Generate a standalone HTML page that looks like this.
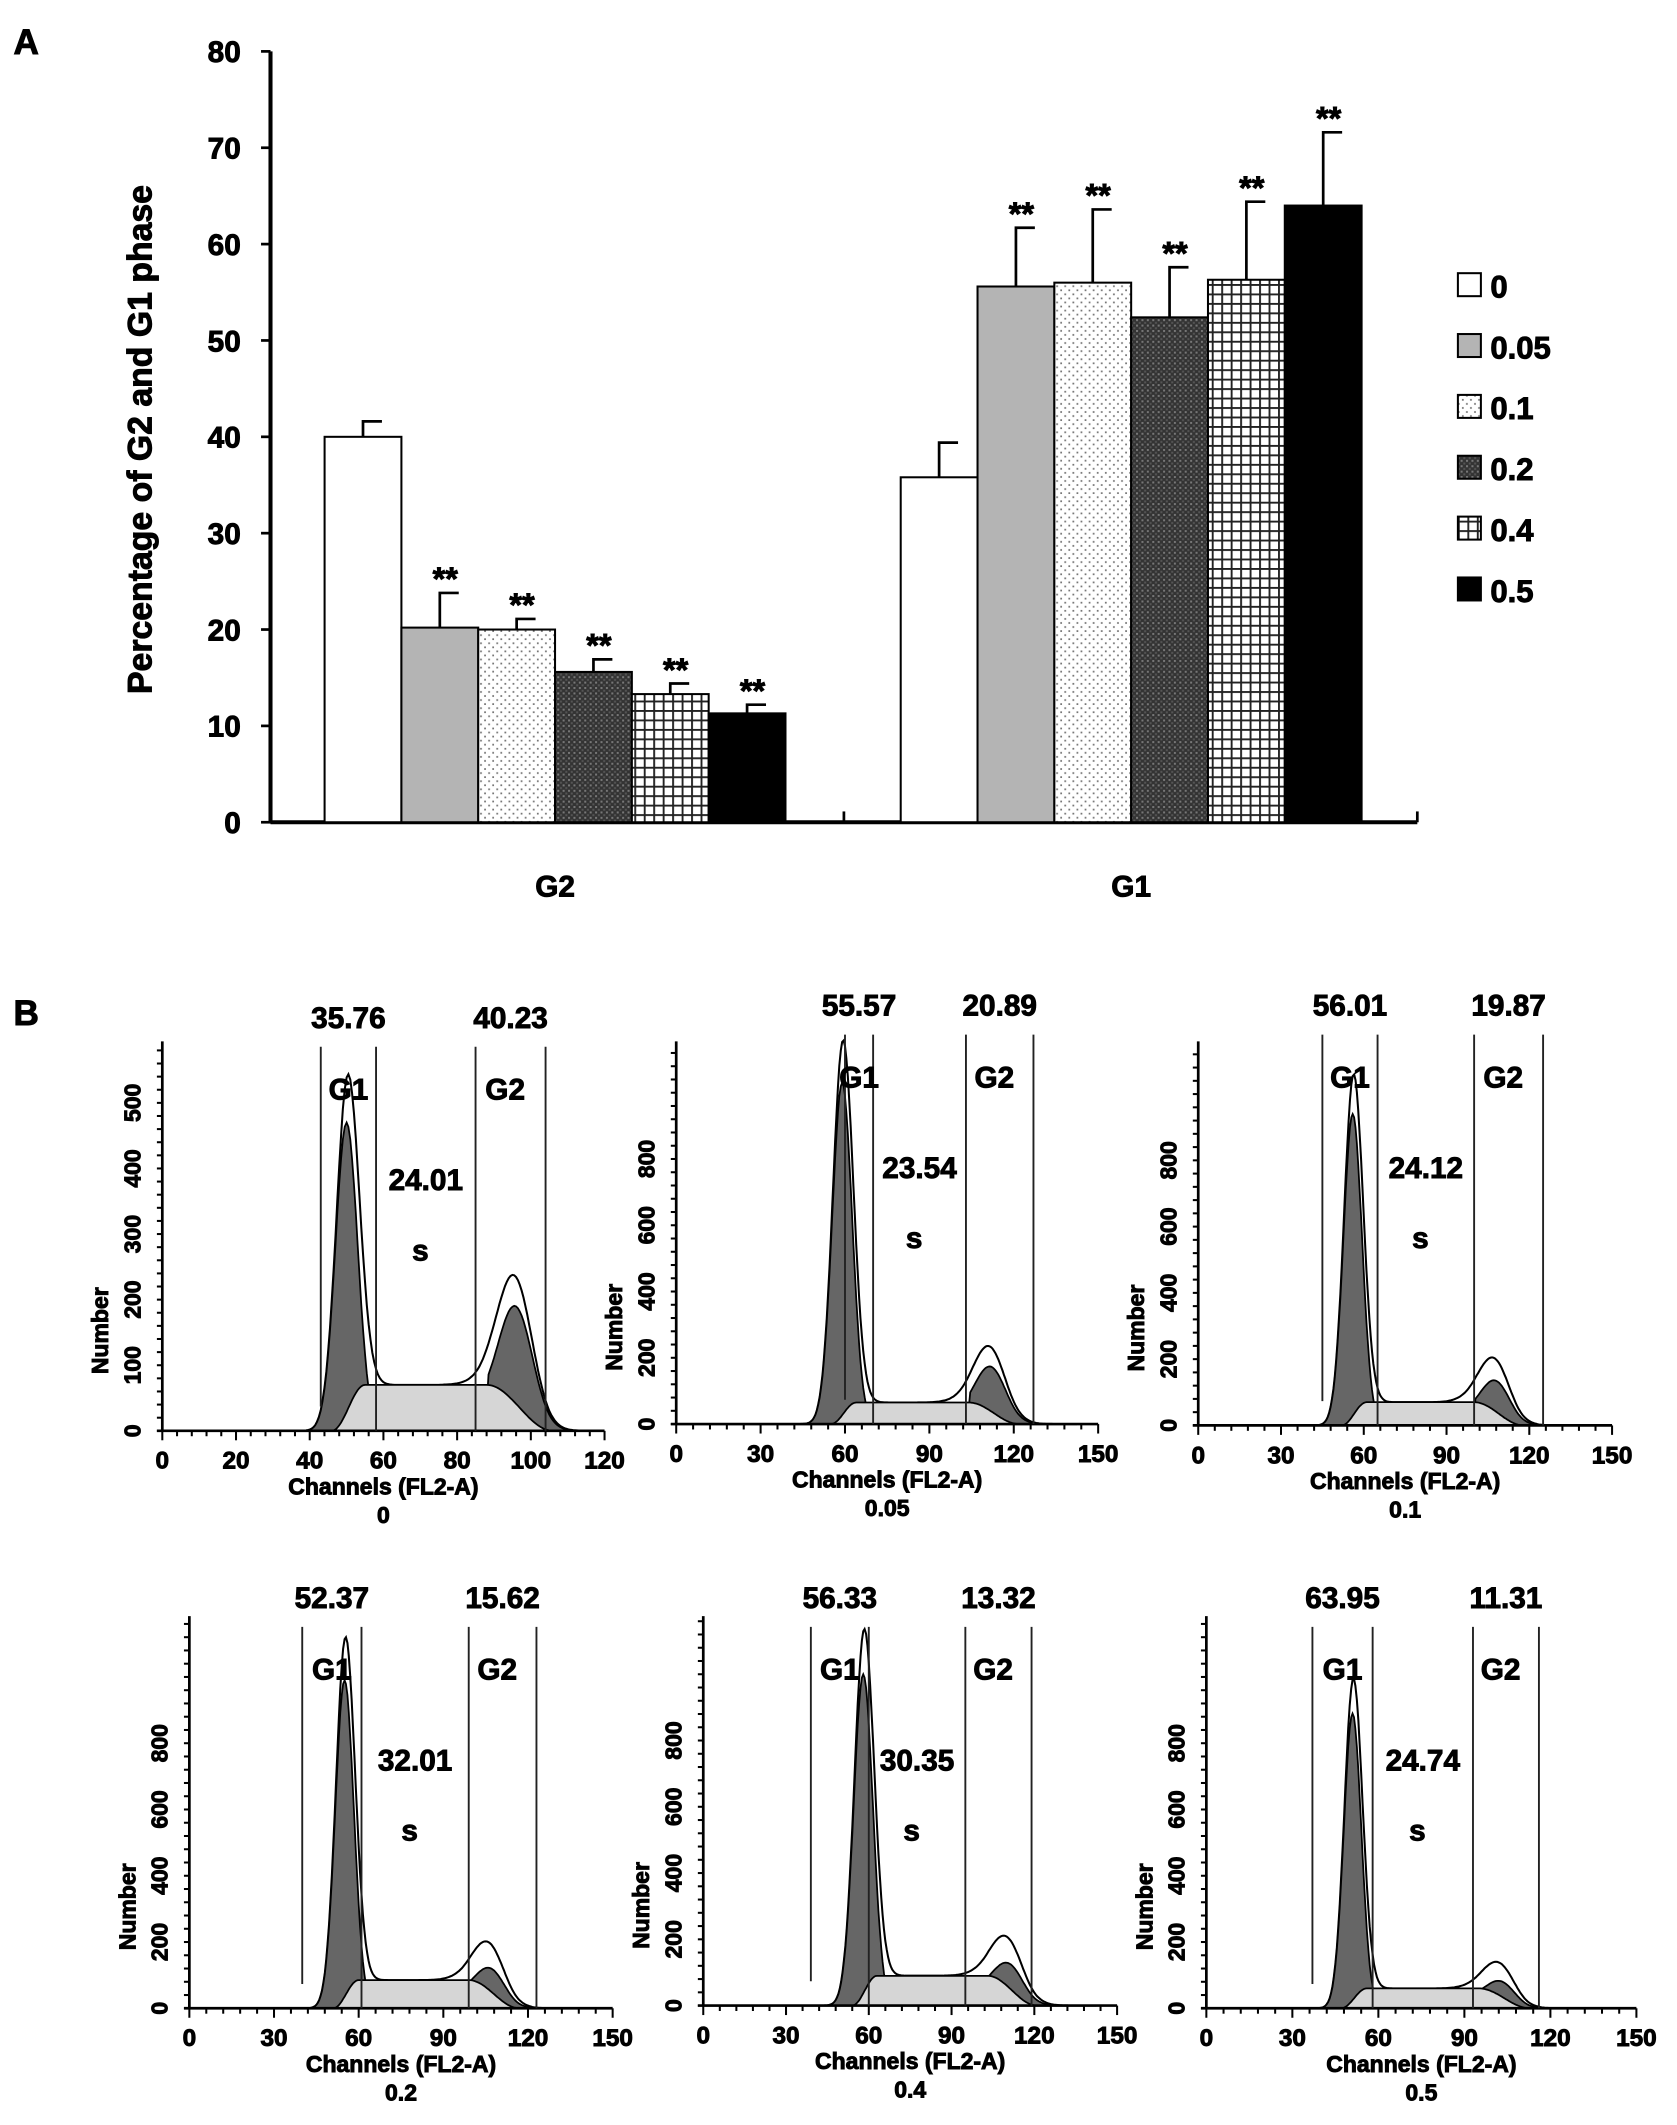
<!DOCTYPE html>
<html><head><meta charset="utf-8"><style>
html,body{margin:0;padding:0;background:#fff}
svg{display:block}
text{font-family:"Liberation Sans",Arial,sans-serif;font-weight:bold;fill:#000;stroke:#000;stroke-width:0.7px}
</style></head><body>
<svg id="fig" xmlns="http://www.w3.org/2000/svg" width="1677" height="2125" viewBox="0 0 1240 1571.3">
<defs>
<pattern id="pDot" width="6" height="6" patternUnits="userSpaceOnUse"><rect width="6" height="6" fill="#fff"/><rect x="1" y="1" width="1.3" height="1.3" fill="#777"/><rect x="4" y="4" width="1.3" height="1.3" fill="#777"/></pattern>
<pattern id="pDark" width="4" height="4" patternUnits="userSpaceOnUse"><rect width="4" height="4" fill="#333"/><rect x="0" y="0" width="1.5" height="1.5" fill="#777"/><rect x="2" y="2" width="1.5" height="1.5" fill="#555"/></pattern>
<pattern id="pGrid" width="7" height="7" patternUnits="userSpaceOnUse"><rect width="7" height="7" fill="#fff"/><rect x="0" y="0" width="7" height="1.4" fill="#222"/><rect x="0" y="0" width="1.4" height="7" fill="#222"/></pattern>
</defs>
<g id="panelA"></g>
<g id="panelB"></g>
</svg>
<script>
// ---------- Panel A data ----------
const groups = ["G2", "G1"];
const doses = ["0", "0.05", "0.1", "0.2", "0.4", "0.5"];
const g2Values = [40, 20.2, 20, 15.6, 13.3, 11.3];
const g2ErrTop = [41.6, 23.8, 21.1, 16.9, 14.4, 12.2];
const g1Values = [35.8, 55.6, 56, 52.4, 56.3, 64];
const g1ErrTop = [39.4, 61.7, 63.6, 57.6, 64.4, 71.6];
const yTicksA = [0, 10, 20, 30, 40, 50, 60, 70, 80];
const sigMarks = ["", "**", "**", "**", "**", "**"];
// ---------- Panel B data ----------
const histTitles = ["0", "0.05", "0.1", "0.2", "0.4", "0.5"];
const g1Pct = ["35.76", "55.57", "56.01", "52.37", "56.33", "63.95"];
const g2Pct = ["40.23", "20.89", "19.87", "15.62", "13.32", "11.31"];
const sPct = ["24.01", "23.54", "24.12", "32.01", "30.35", "24.74"];
const xMaxB = [120, 150, 150, 150, 150, 150];
const yMaxTick = [500, 800, 800, 800, 800, 800];
const g1PeakCh = [50, 59, 56, 55, 58, 51];
const g1PeakH = [470, 1030, 940, 990, 1000, 890];
const g2PeakCh = [96, 112, 108, 107, 111, 103];
const g2PeakH = [165, 150, 110, 90, 95, 60];
const g2TotalExtra = [30, 45, 50, 55, 55, 40];
const sLevel = [70, 65, 70, 85, 90, 60];
const gateCh = [[43, 58, 85, 104],[60, 70, 103, 127],[45, 65, 100, 125],[40, 61, 99, 123],[39, 60, 95, 119],[37, 58, 93, 116]];

const NS = "http://www.w3.org/2000/svg";
function el(tag, attrs, parent, txt) {
  const e = document.createElementNS(NS, tag);
  for (const k in attrs) e.setAttribute(k, attrs[k]);
  if (txt !== undefined) e.textContent = txt;
  parent.appendChild(e);
  return e;
}

// ---------- Panel A ----------
(function(){
  const A = document.getElementById("panelA");
  const x0 = 200, x1 = 1048, yBase = 608, yTop = 38;
  const yA = v => yBase - v * (yBase - yTop) / 80;
  const groupStart = [240, 666];
  const bw = 56.8;
  const fills = ["#fff", "#b4b4b4", "url(#pDot)", "url(#pDark)", "url(#pGrid)", "#000"];
  let t = el("text", {x: 10, y: 40, "font-size": 26}, A, "A");
  
  
  let ax = el("line", {x1: x0, y1: yTop, x2: x0, y2: yBase, stroke: "#000", "stroke-width": 3}, A);
  
  
  yTicksA.forEach(v => {
    el("line", {x1: x0 - 7, y1: yA(v), x2: x0, y2: yA(v), stroke: "#000", "stroke-width": 2}, A);
    const tl = el("text", {x: 178, y: yA(v) + 8, "font-size": 22, "text-anchor": "end"}, A, v);
    
    
  });
  let xa = el("line", {x1: x0, y1: yBase, x2: x1, y2: yBase, stroke: "#000", "stroke-width": 3}, A);
  
  
  [624, x1].forEach(x => el("line", {x1: x, y1: yBase, x2: x, y2: yBase - 8, stroke: "#000", "stroke-width": 2}, A));
  let yl = el("text", {x: 0, y: 0, "font-size": 25, "text-anchor": "middle", transform: "translate(112,325) rotate(-90)"}, A, "Percentage of G2 and G1 phase");
  
  
  const vals = [g2Values, g1Values], errs = [g2ErrTop, g1ErrTop];
  groups.forEach((g, gi) => {
    const cl = el("text", {x: groupStart[gi] + bw * 3, y: 663, "font-size": 22, "text-anchor": "middle"}, A, g);
    
    
    vals[gi].forEach((v, i) => {
      const bx = groupStart[gi] + i * bw;
      const r = el("rect", {x: bx, y: yA(v), width: bw, height: yBase - yA(v), fill: fills[i], stroke: "#000", "stroke-width": 1.5}, A);
      
      
      const cx = bx + bw / 2, et = yA(errs[gi][i]);
      const eb = el("path", {d: `M${cx} ${yA(v)}V${et}M${cx - 1} ${et}H${cx + 14}`, stroke: "#000", "stroke-width": 2, fill: "none"}, A);
      
      
      if (sigMarks[i]) {
        const s = el("text", {x: cx + 4, y: et - 2, "font-size": 24, "text-anchor": "middle"}, A, sigMarks[i]);
        
        
      }
    });
  });
  const lg = el("g", {}, A);
  
  
  doses.forEach((d, i) => {
    const ly = 212 + i * 45;
    const sw = el("rect", {x: 1078, y: ly - 10, width: 17, height: 17, fill: fills[i], stroke: "#000", "stroke-width": 1.5}, lg);
    
    
    const lt = el("text", {x: 1102, y: ly + 8, "font-size": 23}, lg, d);
    
    
  });
})();

// ---------- Panel B ----------
(function(){
  const B = document.getElementById("panelB");
  let t = el("text", {x: 10, y: 758, "font-size": 26}, B, "B");
  
  
  const boxes = [
    {ax: 120, bx: 447, base: 1058, top: 770, per100: 48.5, labY: 752},
    {ax: 500, bx: 812, base: 1053, top: 770, per100: 24.5, labY: 743},
    {ax: 886, bx: 1192, base: 1054, top: 770, per100: 24.5, labY: 743},
    {ax: 140, bx: 453, base: 1485, top: 1195, per100: 24.5, labY: 1181},
    {ax: 520, bx: 826, base: 1483, top: 1195, per100: 24.5, labY: 1181},
    {ax: 892, bx: 1210, base: 1485, top: 1195, per100: 24.5, labY: 1181}
  ];
  boxes.forEach((b, p) => {
    const G = el("g", {}, B);
    
    
    const xs = c => b.ax + c * (b.bx - b.ax) / xMaxB[p];
    const ys = n => b.base - n * b.per100 / 100;
    const m1 = g1PeakCh[p], m2 = g2PeakCh[p];
    const sg1 = m1 * 0.06, sg2 = m2 * 0.048;
    const g1 = c => g1PeakH[p] * Math.exp(-((c - m1) ** 2) / (2 * sg1 * sg1));
    const g2 = c => g2PeakH[p] * Math.exp(-((c - m2) ** 2) / (2 * sg2 * sg2));
    const sA = m1 - 4, sB = m1 + 5, sC = m2 - 8, sD = m2 + 10;
    const sf = c => c <= sA || c >= sD ? 0 : c < sB ? sLevel[p] * (1 - Math.cos(Math.PI * (c - sA) / (sB - sA))) / 2 : c <= sC ? sLevel[p] : sLevel[p] * (1 + Math.cos(Math.PI * (c - sC) / (sD - sC))) / 2;
    const ex = c => g2TotalExtra[p] * Math.exp(-((c - m2 + 2) ** 2) / (2 * (sg2 * 1.3) ** 2)) + 0.12 * g1(c - 2.5);
    function area(f) {
      let d = `M${xs(0)} ${b.base}`;
      for (let c = 0; c <= xMaxB[p] * 0.95; c += 0.5) d += `L${xs(c).toFixed(1)} ${ys(f(c)).toFixed(1)}`;
      return d + `L${xs(xMaxB[p] * 0.95)} ${b.base}Z`;
    }
    let tot = el("path", {d: area(c => Math.max(g1(c) * 1.03, g1(c) + g2(c) + sf(c) + ex(c))), fill: "#fff", stroke: "#000", "stroke-width": 1.5}, G);
    
    
    let dk = el("path", {d: area(c => g1(c) + g2(c) + (c > m2 - 8 ? sf(c) * 0.6 : 0)), fill: "#666", stroke: "#000", "stroke-width": 1.3}, G);
    
    
    let sp = el("path", {d: area(sf), fill: "#d6d6d6", stroke: "#000", "stroke-width": 1.3}, G);
    
    
    el("line", {x1: b.ax, y1: b.top, x2: b.ax, y2: b.base, stroke: "#000", "stroke-width": 2}, G);
    el("line", {x1: b.ax - 4, y1: b.base, x2: b.bx, y2: b.base, stroke: "#000", "stroke-width": 2}, G);
    const yStep = yMaxTick[p] === 500 ? 100 : 200;
    for (let v = 0; ys(v) >= b.top; v += yStep / 5) {
      el("line", {x1: b.ax - 4, y1: ys(v), x2: b.ax, y2: ys(v), stroke: "#000", "stroke-width": 1.5}, G);
    }
    for (let v = 0; v <= yMaxTick[p]; v += yStep) {
      const tl = el("text", {x: 0, y: 0, "font-size": 17, "text-anchor": "middle", transform: `translate(${b.ax - 16},${ys(v)}) rotate(-90)`}, G, v);
      
      
    }
    const xStep = xMaxB[p] === 120 ? 20 : 30;
    for (let c = 0; c <= xMaxB[p]; c += xStep / 5) {
      el("line", {x1: xs(c), y1: b.base, x2: xs(c), y2: b.base + (c % xStep === 0 ? 7 : 4), stroke: "#000", "stroke-width": 1.5}, G);
    }
    for (let c = 0; c <= xMaxB[p]; c += xStep) {
      const tl = el("text", {x: xs(c), y: b.base + 28, "font-size": 18, "text-anchor": "middle"}, G, c);
      
      
    }
    const cx = (b.ax + b.bx) / 2;
    let xl = el("text", {x: cx, y: b.base + 47, "font-size": 17, "text-anchor": "middle"}, G, "Channels (FL2-A)");
    
    
    let st = el("text", {x: cx, y: b.base + 68, "font-size": 17, "text-anchor": "middle"}, G, histTitles[p]);
    
    
    let yl = el("text", {x: 0, y: 0, "font-size": 17, "text-anchor": "middle", transform: `translate(${b.ax - 40},${(b.top + b.base) / 2 + 70}) rotate(-90)`}, G, "Number");
    
    
    const gc = gateCh[p];
    gc.forEach((c, i) => {
      const gl = el("line", {x1: xs(c), y1: b.labY + 22, x2: xs(c), y2: i === 0 ? b.base - 18 : b.base, stroke: "#222", "stroke-width": 1.4}, G);
      
      
    });
    const lbl = (x, y, s, n, fs) => {
      const e = el("text", {x: x, y: y, "font-size": fs, "text-anchor": "middle"}, G, s);
      
      
    };
    lbl((xs(gc[0]) + xs(gc[1])) / 2, b.labY + 8, g1Pct[p], 'g1-percentage', 22);
    lbl((xs(gc[2]) + xs(gc[3])) / 2, b.labY + 8, g2Pct[p], 'g2-percentage', 22);
    lbl((xs(gc[0]) + xs(gc[1])) / 2, b.labY + 61, "G1", 'g1-label', 22);
    lbl((xs(gc[2]) + xs(gc[3])) / 2 - 4, b.labY + 61, "G2", 'g2-label', 22);
    lbl((xs(gc[1]) + xs(gc[2])) / 2, b.labY + 128, sPct[p], 's-percentage', 22);
    lbl((xs(gc[1]) + xs(gc[2])) / 2 - 4, b.labY + 180, "s", 's-label', 22);
  });
})();
</script>
</body></html>
